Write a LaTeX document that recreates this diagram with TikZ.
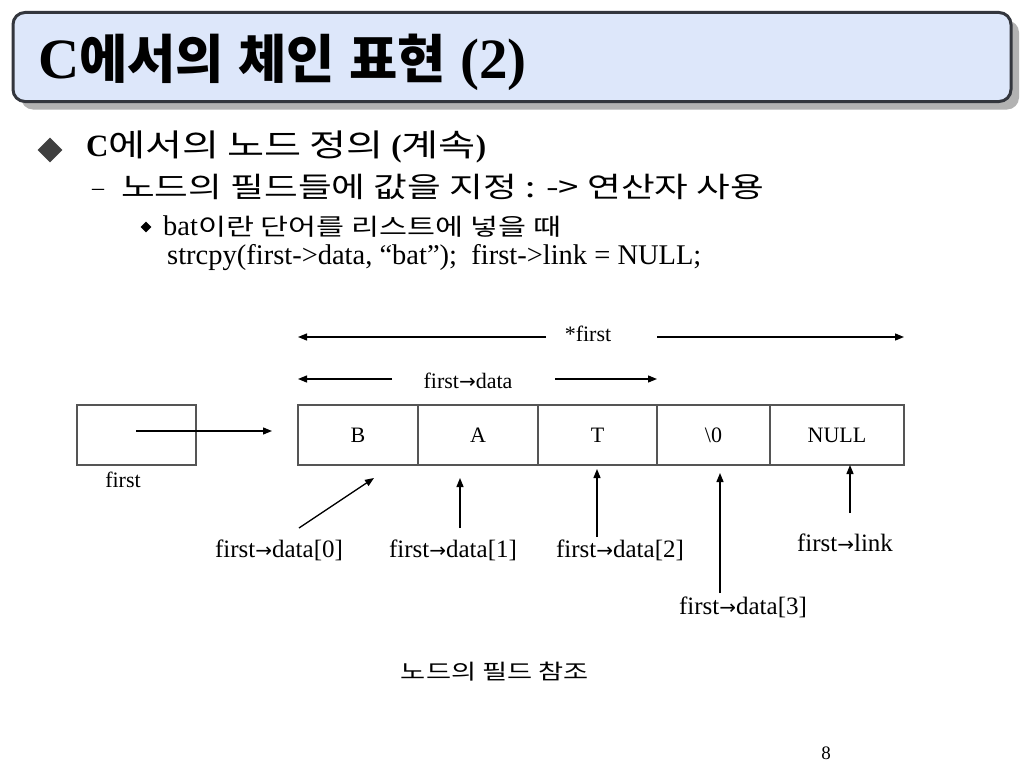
\documentclass[tikz,border=0pt]{standalone}
\usepackage{fontspec}
\setmainfont{Liberation Serif}
\newfontfamily\kr[FakeStretch=1.3]{Noto Sans CJK KR}
\newfontfamily\krt{Noto Sans CJK KR}
\newfontfamily\sym{DejaVu Sans}
\usetikzlibrary{arrows.meta,shapes.geometric,shadows}
\newcommand{\fs}[1]{\fontsize{#1}{#1}\selectfont}
\newcommand{\hg}[2]{{\fs{#1}\kr\mdseries #2}}
\newcommand{\ra}{{\sym\fs{20}→}}
\definecolor{titlefill}{HTML}{DDE7FA}
\definecolor{titleline}{HTML}{33363D}
\definecolor{boxline}{HTML}{555555}
\tikzset{
  arr/.style={-{Triangle[length=9pt,width=7pt]}, line width=1.3pt},
  cell/.style={draw=boxline, line width=1.3pt, minimum height=60pt, inner sep=0pt, font=\fs{22}},
  lbl/.style={font=\fs{25}, inner sep=0pt},
  line/.style={anchor=base west, inner sep=0pt}
}
\begin{document}
\begin{tikzpicture}[x=1pt, y=-1pt]
        \useasboundingbox[fill=white] (0,0) rectangle (1024,768);

        % title
        \node[draw=titleline, line width=3pt, fill=titlefill, rounded corners=12pt,
              minimum width=998pt, minimum height=89pt,
              drop shadow={shadow xshift=8pt, shadow yshift=-8pt, fill=black!30, opacity=1}] (tbox) at (512,57) {};
        \node[line, font=\fs{57}\bfseries] (title) at (38,78)
            {C{\fs{52.5}\krt 에서의} {\fs{52.5}\krt 체인} {\fs{52.5}\krt 표현} (2)};

        % bullets
        \node[diamond, fill=black!75, minimum size=25pt, inner sep=0pt] (b1) at (50,150) {};
        \node[line, font=\fs{31}\bfseries] (l1) at (86,156)
            {C\hg{31}{에서의} \hg{31}{노드} \hg{31}{정의} (\hg{31}{계속})};
        \node[line, font=\fs{24}] (l2) at (92,195) {–};
        \node[line] (l2b) at (121,197) {\hg{28.2}{노드의 필드들에 값을 지정 : -> 연산자 사용}};
        \node[diamond, fill=black, minimum size=11pt, inner sep=0pt] (b3) at (146,227) {};
        \node[line, font=\fs{28.5}] (l3) at (163,235) {bat\hg{23.4}{이란 단어를 리스트에 넣을 때}};
        \node[line, font=\fs{28.5}] (l4) at (167,264) {strcpy(first->data, “bat”);\ \ first->link = NULL;};

        % nodes
        \node[cell, minimum width=119pt] (f) at (136.5,435) {};
        \node[lbl, font=\fs{22}] (fl) at (123,480) {first};

        \node[cell, minimum width=120pt] (c1) at (358,435) {B};
        \node[cell, minimum width=120pt] (c2) at (478,435) {A};
        \node[cell, minimum width=119pt] (c3) at (597.5,435) {T};
        \node[cell, minimum width=113pt] (c4) at (713.5,435) {\textbackslash 0};
        \node[cell, minimum width=134pt] (c5) at (837,435) {NULL};

        \coordinate (fp) at (136,431);
        \coordinate (fe) at (272,431);
        \draw[arr] (fp) -- (fe);

        % *first span
        \node[lbl, font=\fs{22}] (sf) at (588,334) {*first};
        \coordinate (s1) at (546,337);
        \coordinate (s2) at (298,337);
        \coordinate (s3) at (657,337);
        \coordinate (s4) at (904,337);
        \draw[arr] (s1) -- (s2);
        \draw[arr] (s3) -- (s4);

        % first->data span
        \node[lbl, font=\fs{22}] (df) at (468,381) {first\ra data};
        \coordinate (d1) at (392,379);
        \coordinate (d2) at (298,379);
        \coordinate (d3) at (555,379);
        \coordinate (d4) at (657,379);
        \draw[arr] (d1) -- (d2);
        \draw[arr] (d3) -- (d4);

        % field references
        \node[lbl] (r0) at (279,550) {first\ra data[0]};
        \node[lbl] (r1) at (453,550) {first\ra data[1]};
        \node[lbl] (r2) at (620,550) {first\ra data[2]};
        \node[lbl] (r3) at (743,607) {first\ra data[3]};
        \node[lbl] (rl) at (845,543) {first\ra link};

        \coordinate (p0) at (299,528);
        \coordinate (q0) at (374,478);
        \coordinate (p1) at (460,528);
        \coordinate (q1) at (460,478);
        \coordinate (p2) at (597,537);
        \coordinate (q2) at (597,469);
        \coordinate (p3) at (720,593);
        \coordinate (q3) at (720,473);
        \coordinate (pl) at (850,513);
        \coordinate (ql) at (850,465);

        \draw[arr] (p0) -- (q0);
        \draw[arr] (p1) -- (q1);
        \draw[arr] (p2) -- (q2);
        \draw[arr] (p3) -- (q3);
        \draw[arr] (pl) -- (ql);

        \node[inner sep=0pt] (cap) at (495,672) {\hg{21}{노드의 필드 참조}};
        \node[inner sep=0pt, font=\fs{19}] (pg) at (826,753) {8};
    \end{tikzpicture}
\end{document}
